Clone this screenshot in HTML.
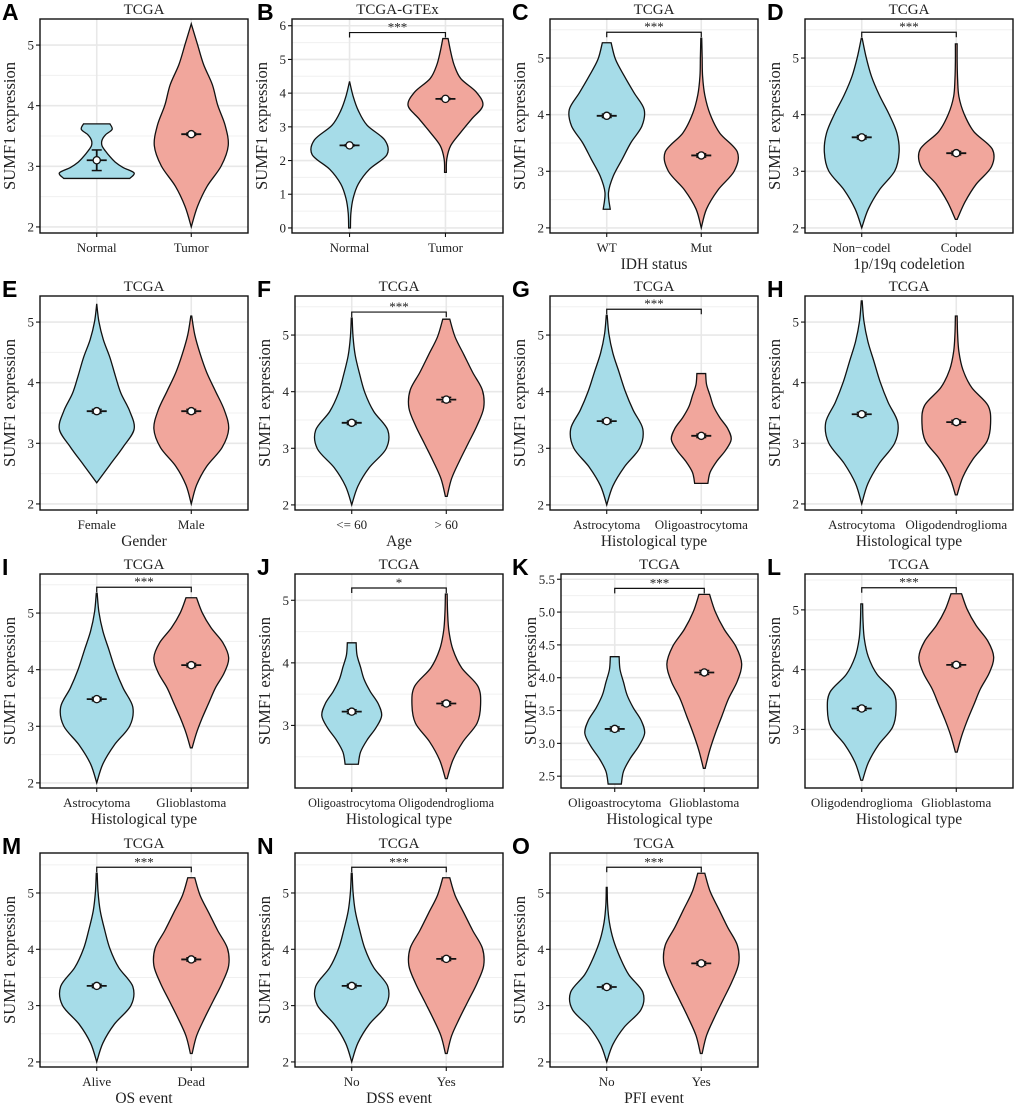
<!DOCTYPE html>
<html><head><meta charset="utf-8">
<style>
html,body{margin:0;padding:0;background:#fff;}
svg{display:block;}
text{font-family:"Liberation Serif",serif;fill:#222;}
.letter{font-family:"Liberation Sans",sans-serif;font-weight:bold;font-size:23px;fill:#000;}
</style></head>
<body>
<svg id="fig" width="1020" height="1110" viewBox="0 0 1020 1110" xmlns="http://www.w3.org/2000/svg"></svg>
<script>
const panelLetters=["A","B","C","D","E","F","G","H","I","J","K","L","M","N","O"];
const panelTitles=["TCGA","TCGA-GTEx","TCGA","TCGA","TCGA","TCGA","TCGA","TCGA","TCGA","TCGA","TCGA","TCGA","TCGA","TCGA","TCGA"];
const catsA=["Normal","Normal","WT","Non\u2212codel","Female","<= 60","Astrocytoma","Astrocytoma","Astrocytoma","Oligoastrocytoma","Oligoastrocytoma","Oligodendroglioma","Alive","No","No"];
const catsB=["Tumor","Tumor","Mut","Codel","Male","> 60","Oligoastrocytoma","Oligodendroglioma","Glioblastoma","Oligodendroglioma","Glioblastoma","Glioblastoma","Dead","Yes","Yes"];
const xTitles=["","","IDH status","1p/19q codeletion","Gender","Age","Histological type","Histological type","Histological type","Histological type","Histological type","Histological type","OS event","DSS event","PFI event"];
const sigLabels=["","***","***","***","","***","***","","***","*","***","***","***","***","***"];
const yTickSets=[[2,3,4,5],[0,1,2,3,4,5,6],[2,3,4,5],[2,3,4,5],[2,3,4,5],[2,3,4,5],[2,3,4,5],[2,3,4,5],[2,3,4,5],[3,4,5],[2.5,3.0,3.5,4.0,4.5,5.0,5.5],[3,4,5],[2,3,4,5],[2,3,4,5],[2,3,4,5]];
const yLo=[1.9,-0.15,1.91,1.91,1.9,1.91,1.91,1.9,1.91,2.0,2.32,2.02,1.91,1.91,1.91];
const yHi=[5.43,6.2,5.69,5.69,5.43,5.69,5.69,5.43,5.69,5.42,5.58,5.6,5.71,5.71,5.71];
const minA=[2.8,0.0,2.33,2.0,2.35,2.0,2.0,2.0,2.0,2.38,2.38,2.15,2.0,2.0,2.0];
const maxA=[3.7,4.35,5.27,5.35,5.3,5.3,5.35,5.35,5.35,4.32,4.32,5.1,5.35,5.35,5.1];
const meanA=[3.1,2.45,3.98,3.6,3.53,3.45,3.48,3.48,3.48,3.22,3.22,3.35,3.35,3.35,3.33];
const ciA=[0.17,0.02,0.03,0.03,0.03,0.03,0.03,0.03,0.03,0.03,0.03,0.03,0.03,0.03,0.03];
const minB=[2.0,1.65,2.0,2.15,2.0,2.15,2.38,2.15,2.62,2.15,2.62,2.62,2.15,2.15,2.15];
const maxB=[5.35,5.62,5.35,5.25,5.1,5.28,4.32,5.1,5.27,5.1,5.27,5.27,5.27,5.27,5.35];
const meanB=[3.53,3.83,3.28,3.32,3.53,3.86,3.22,3.35,4.08,3.35,4.08,4.08,3.82,3.83,3.75];
const ciB=[0.02,0.02,0.03,0.03,0.03,0.04,0.03,0.03,0.03,0.03,0.03,0.03,0.03,0.03,0.03];
const P_astro=[0,0.14,0.4,0.75,0.82,0.6,0.42,0.28,0.14,0.05,0.01];
const P_oligoastro=[0.15,0.2,0.35,0.55,0.68,0.6,0.42,0.28,0.2,0.12,0.1];
const P_oligodendro=[0.02,0.15,0.38,0.7,0.78,0.72,0.35,0.15,0.06,0.03,0.02];
const P_glio=[0.02,0.12,0.25,0.4,0.55,0.75,0.85,0.72,0.45,0.25,0.12];
const P_young=[0,0.14,0.4,0.78,0.82,0.5,0.3,0.18,0.08,0.03,0.01];
const P_old=[0.02,0.12,0.3,0.5,0.7,0.85,0.82,0.6,0.4,0.2,0.08];
const profA=[[0.75,0.85,0.6,0.42,0.3,0.2,0.12,0.12,0.2,0.35,0.3],
 [0.02,0.03,0.08,0.2,0.45,0.85,0.8,0.4,0.2,0.08,0],
 [0.08,0.04,0.15,0.35,0.55,0.8,0.85,0.62,0.4,0.2,0.1],
 [0,0.15,0.4,0.75,0.85,0.8,0.62,0.4,0.22,0.1,0.01],
 [0,0.3,0.6,0.85,0.75,0.55,0.42,0.3,0.15,0.05,0],
 P_young,P_astro,P_astro,P_astro,P_oligoastro,P_oligoastro,P_oligodendro,P_young,P_young,
 [0,0.14,0.4,0.78,0.82,0.5,0.3,0.15,0.06,0.02,0.01]];
const profB=[[0,0.14,0.36,0.68,0.84,0.77,0.6,0.48,0.28,0.14,0],
 [0.02,0.03,0.12,0.35,0.6,0.85,0.7,0.35,0.2,0.12,0.06],
 [0,0.12,0.38,0.75,0.82,0.42,0.2,0.08,0.03,0.02,0.01],
 [0.02,0.2,0.45,0.8,0.82,0.4,0.18,0.06,0.03,0.02,0.02],
 [0,0.12,0.35,0.7,0.85,0.75,0.55,0.35,0.2,0.08,0.01],
 P_old,P_oligoastro,P_oligodendro,P_glio,P_oligodendro,P_glio,P_glio,P_old,P_old,P_old];

const NS="http://www.w3.org/2000/svg";
const svg=document.getElementById('fig');
function mk(tag,attrs,parent){const e=document.createElementNS(NS,tag);for(const k in attrs)e.setAttribute(k,attrs[k]);(parent||svg).appendChild(e);return e;}
const colX=[0,255,510,765], rowY=[0,277,555,834];
const BOX_T=19,BOX_B=233,BOX_R=248,MAXW=44;

function smoothPath(pts){
  let d="";
  for(let i=0;i<pts.length-1;i++){
    const p0=pts[Math.max(0,i-1)],p1=pts[i],p2=pts[i+1],p3=pts[Math.min(pts.length-1,i+2)];
    const c1=[p1[0]+(p2[0]-p0[0])/6,p1[1]+(p2[1]-p0[1])/6];
    const c2=[p2[0]-(p3[0]-p1[0])/6,p2[1]-(p3[1]-p1[1])/6];
    d+=` C${c1[0].toFixed(2)},${c1[1].toFixed(2)} ${c2[0].toFixed(2)},${c2[1].toFixed(2)} ${p2[0].toFixed(2)},${p2[1].toFixed(2)}`;
  }
  return d;
}

for(let p=0;p<15;p++){
  const ox=colX[p%4], oy=rowY[Math.floor(p/4)];
  const g=mk('g',{transform:`translate(${ox},${oy})`});
  
  
  const ticks=yTickSets[p];
  const L=(p===10)?51:(p===1?37:40);
  const W=BOX_R-L;
  const y=v=>BOX_B-(v-yLo[p])/(yHi[p]-yLo[p])*(BOX_B-BOX_T);
  const x=i=>L+W*(0.6+i)/2.2;
  const lt=mk('text',{x:2,y:20,class:'letter'},g);lt.textContent=panelLetters[p];
  
  
  const tt=mk('text',{x:(L+BOX_R)/2,y:14,'text-anchor':'middle','font-size':15},g);tt.textContent=panelTitles[p];
  
  
  mk('rect',{x:L,y:BOX_T,width:W,height:BOX_B-BOX_T,fill:'#fff'},g);
  for(let i=0;i<ticks.length-1;i++){const v=(ticks[i]+ticks[i+1])/2;mk('line',{x1:L,x2:BOX_R,y1:y(v),y2:y(v),stroke:'#f0f0f0','stroke-width':1},g);}
  const st=ticks[1]-ticks[0];
  [ticks[0]-st/2,ticks[ticks.length-1]+st/2].forEach(v=>{if(v>yLo[p]&&v<yHi[p])mk('line',{x1:L,x2:BOX_R,y1:y(v),y2:y(v),stroke:'#f0f0f0','stroke-width':1},g);});
  ticks.forEach(v=>{mk('line',{x1:L,x2:BOX_R,y1:y(v),y2:y(v),stroke:'#e8e8e8','stroke-width':1.6},g);});
  [0,1].forEach(i=>mk('line',{x1:x(i),x2:x(i),y1:BOX_T,y2:BOX_B,stroke:'#e8e8e8','stroke-width':1.6},g));
  const sets=[[minA[p],maxA[p],meanA[p],ciA[p],profA[p],'#a6dce8'],[minB[p],maxB[p],meanB[p],ciB[p],profB[p],'#f1a69c']];
  sets.forEach((s,i)=>{
    const [mn,mx,mean,ci,prof,col]=s;const cx=x(i);const n=prof.length;
    const right=prof.map((f,k)=>[cx+f*MAXW,y(mn+(mx-mn)*k/(n-1))]);
    const left=prof.map((f,k)=>[cx-f*MAXW,y(mn+(mx-mn)*k/(n-1))]).reverse();
    let d=`M${left[n-1][0].toFixed(2)},${left[n-1][1].toFixed(2)} L${right[0][0].toFixed(2)},${right[0][1].toFixed(2)}`+smoothPath(right)+` L${left[0][0].toFixed(2)},${left[0][1].toFixed(2)}`+smoothPath(left)+'Z';
    const v=mk('path',{d:d,fill:col,stroke:'#111','stroke-width':1.3},g);
    
    
    mk('line',{x1:cx-10,x2:cx+10,y1:y(mean),y2:y(mean),stroke:'#111','stroke-width':1.8},g);
    mk('line',{x1:cx,x2:cx,y1:y(mean-ci),y2:y(mean+ci),stroke:'#111','stroke-width':1.8},g);
    mk('line',{x1:cx-5,x2:cx+5,y1:y(mean-ci),y2:y(mean-ci),stroke:'#111','stroke-width':1.5},g);
    mk('line',{x1:cx-5,x2:cx+5,y1:y(mean+ci),y2:y(mean+ci),stroke:'#111','stroke-width':1.5},g);
    const c=mk('circle',{cx:cx,cy:y(mean),r:3.6,fill:'#fff',stroke:'#111','stroke-width':1.3},g);
    
    
  });
  if(sigLabels[p]){
    const top=Math.max(maxA[p],maxB[p]);
    const by=y(top)-6, legY=y(top)-1;
    const br=mk('path',{d:`M${x(0)},${legY} L${x(0)},${by} L${x(1)},${by} L${x(1)},${legY}`,fill:'none',stroke:'#111','stroke-width':1.2},g);
    
    
    const sl=mk('text',{x:(x(0)+x(1))/2,y:by-1,'text-anchor':'middle','font-size':13},g);sl.textContent=sigLabels[p];
    
    
  }
  mk('rect',{x:L,y:BOX_T,width:W,height:BOX_B-BOX_T,fill:'none',stroke:'#111','stroke-width':1.4},g);
  ticks.forEach(v=>{
    mk('line',{x1:L-4,x2:L,y1:y(v),y2:y(v),stroke:'#111','stroke-width':1.1},g);
    const t=mk('text',{x:L-6,y:y(v)+4.5,'text-anchor':'end','font-size':13},g);
    t.textContent=(p===10)?v.toFixed(1):String(v);
    
    
  });
  const yl=mk('text',{x:0,y:0,'text-anchor':'middle','font-size':16.5,transform:`translate(${L-25},${(BOX_T+BOX_B)/2}) rotate(-90)`},g);
  yl.textContent='SUMF1 expression';
  
  
  [catsA[p],catsB[p]].forEach((c,i)=>{
    mk('line',{x1:x(i),x2:x(i),y1:BOX_B,y2:BOX_B+4,stroke:'#111','stroke-width':1.1},g);
    const t=mk('text',{x:x(i),y:BOX_B+19,'text-anchor':'middle','font-size':(p===9?12.2:13)},g);t.textContent=c;
    
    
  });
  if(xTitles[p]){
    const xt=mk('text',{x:(L+BOX_R)/2,y:BOX_B+36,'text-anchor':'middle','font-size':15.5},g);xt.textContent=xTitles[p];
    
    
  }
}
</script>
</body></html>
